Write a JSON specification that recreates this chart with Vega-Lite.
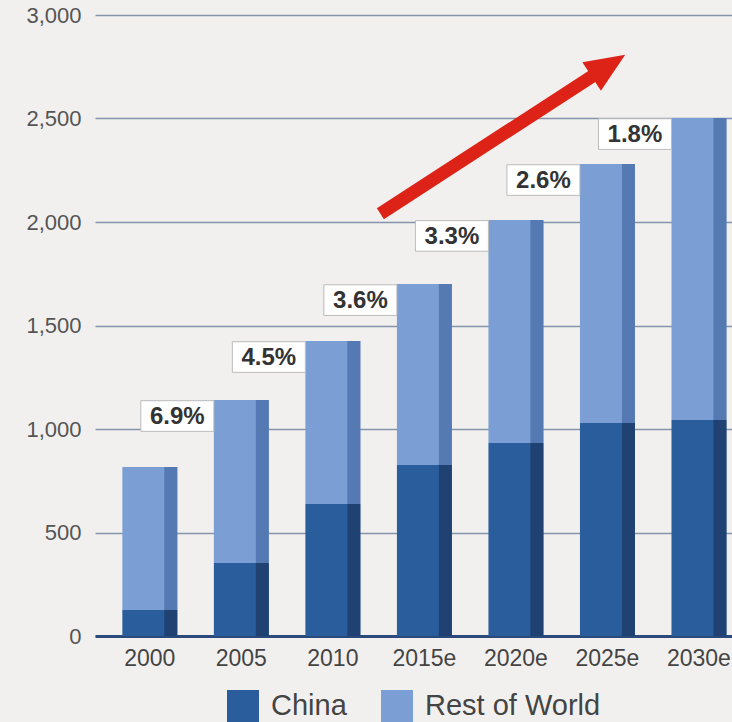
{
  "$schema": "https://vega.github.io/schema/vega-lite/v6.json",
  "width": 637,
  "height": 621,
  "autosize": "none",
  "padding": {"left": 95, "top": 15, "right": 0, "bottom": 86},
  "background": "#f2f0ee",
  "config": {
    "view": {"stroke": null},
    "font": "Liberation Sans",
    "axis": {"labelFont": "Liberation Sans"}
  },
  "datasets": {
    "bars": [
      {"year": "2000", "series": "China", "value": 126},
      {"year": "2000", "series": "Rest of World", "value": 690},
      {"year": "2005", "series": "China", "value": 353},
      {"year": "2005", "series": "Rest of World", "value": 787},
      {"year": "2010", "series": "China", "value": 638},
      {"year": "2010", "series": "Rest of World", "value": 787},
      {"year": "2015e", "series": "China", "value": 826},
      {"year": "2015e", "series": "Rest of World", "value": 874},
      {"year": "2020e", "series": "China", "value": 932},
      {"year": "2020e", "series": "Rest of World", "value": 1078},
      {"year": "2025e", "series": "China", "value": 1029},
      {"year": "2025e", "series": "Rest of World", "value": 1251},
      {"year": "2030e", "series": "China", "value": 1043},
      {"year": "2030e", "series": "Rest of World", "value": 1459}
    ],
    "labels": [
      {"year": "2005", "total": 1140, "label": "6.9%"},
      {"year": "2010", "total": 1425, "label": "4.5%"},
      {"year": "2015e", "total": 1700, "label": "3.6%"},
      {"year": "2020e", "total": 2010, "label": "3.3%"},
      {"year": "2025e", "total": 2280, "label": "2.6%"},
      {"year": "2030e", "total": 2502, "label": "1.8%"}
    ],
    "arrow": [
      {"x": "2015e", "y": 2040, "x2": "2025e", "y2": 2755}
    ]
  },
  "encoding": {
    "x": {
      "field": "year",
      "type": "nominal",
      "sort": ["2000", "2005", "2010", "2015e", "2020e", "2025e", "2030e"],
      "scale": {"type": "band", "paddingInner": 0.4, "paddingOuter": 0.18, "align": 0.83},
      "axis": {
        "title": null,
        "labelAngle": 0,
        "labelFontSize": 23,
        "labelColor": "#444444",
        "labelPadding": 11,
        "ticks": false,
        "domain": true,
        "domainColor": "#2b4a7c",
        "domainWidth": 3
      }
    }
  },
  "layer": [
    {
      "data": {"name": "bars"},
      "mark": {"type": "bar"},
      "encoding": {
        "y": {
          "field": "value",
          "type": "quantitative",
          "stack": "zero",
          "scale": {"domain": [0, 3000], "nice": false},
          "axis": {
            "title": null,
            "values": [0, 500, 1000, 1500, 2000, 2500, 3000],
            "format": ",.0f",
            "labelFontSize": 22,
            "labelColor": "#555555",
            "labelPadding": 14,
            "ticks": false,
            "domain": false,
            "grid": true,
            "gridColor": "#8593ab",
            "gridWidth": 1.5
          }
        },
        "color": {
          "field": "series",
          "type": "nominal",
          "scale": {"domain": ["China", "Rest of World"], "range": ["#2a5d9c", "#7b9fd5"]},
          "legend": {
            "title": null,
            "orient": "none",
            "direction": "horizontal",
            "legendX": 132,
            "legendY": 675,
            "symbolType": "square",
            "symbolSize": 1024,
            "symbolStrokeWidth": 0,
            "labelFontSize": 29,
            "labelColor": "#444444",
            "labelOffset": 12,
            "labelLimit": 400,
            "columnPadding": 34
          }
        },
        "order": {"field": "series", "sort": "ascending"}
      }
    },
    {
      "data": {"name": "bars"},
      "mark": {"type": "bar", "width": 13, "xOffset": 21},
      "encoding": {
        "y": {"field": "value", "type": "quantitative", "stack": "zero"},
        "fill": {
          "field": "series",
          "type": "nominal",
          "scale": {"domain": ["China", "Rest of World"], "range": ["#1f4273", "#5479b3"]},
          "legend": null
        },
        "order": {"field": "series", "sort": "ascending"}
      }
    },
    {
      "data": {"name": "labels"},
      "mark": {
        "type": "point",
        "shape": "M-1,-0.42 L1,-0.42 L1,0.42 L-1,0.42 Z",
        "size": 5329,
        "filled": true,
        "fill": "#ffffff",
        "stroke": "#bbbbbb",
        "strokeWidth": 1,
        "opacity": 1,
        "xOffset": -64,
        "yOffset": 16
      },
      "encoding": {
        "y": {"field": "total", "type": "quantitative"}
      }
    },
    {
      "data": {"name": "labels"},
      "mark": {
        "type": "text",
        "fontWeight": "bold",
        "fontSize": 24,
        "color": "#333333",
        "align": "center",
        "baseline": "middle",
        "xOffset": -64,
        "yOffset": 17
      },
      "encoding": {
        "y": {"field": "total", "type": "quantitative"},
        "text": {"field": "label"}
      }
    },
    {
      "data": {"name": "arrow"},
      "mark": {"type": "rule", "color": "#dd2218", "strokeWidth": 13, "xOffset": -44, "x2Offset": 1},
      "encoding": {
        "x": {"field": "x", "type": "nominal"},
        "x2": {"field": "x2"},
        "y": {"field": "y", "type": "quantitative"},
        "y2": {"field": "y2"}
      }
    },
    {
      "data": {"name": "arrow"},
      "mark": {
        "type": "point",
        "shape": "M1,0 L-1,-0.85 L-1,0.85 Z",
        "size": 1600,
        "filled": true,
        "fill": "#dd2218",
        "opacity": 1,
        "angle": -33,
        "xOffset": 1
      },
      "encoding": {
        "x": {"field": "x2", "type": "nominal"},
        "y": {"field": "y2", "type": "quantitative"}
      }
    }
  ]
}
